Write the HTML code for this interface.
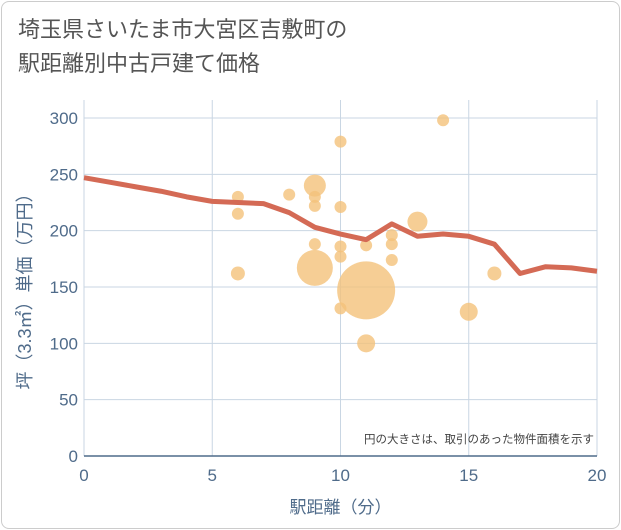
<!DOCTYPE html>
<html><head><meta charset="utf-8">
<style>
body{margin:0;background:#fff;font-family:"Liberation Sans","Noto Sans CJK JP",sans-serif;}
#wrap{position:relative;width:621px;height:530px;overflow:hidden;}
#frame{position:absolute;left:1px;top:1px;width:617px;height:526px;border:1px solid #ccc;border-radius:8px;}
#title{position:absolute;left:18px;top:13px;font-size:22px;line-height:34px;color:#555;}
svg{position:absolute;left:0;top:0;}
</style></head><body>
<div id="wrap">
<div id="frame"></div>
<div id="title">埼玉県さいたま市大宮区吉敷町の<br>駅距離別中古戸建て価格</div>
<svg id="chart" width="621" height="530"></svg>
</div>
<script>
const xTicks=[0,5,10,15,20];
const yTicks=[0,50,100,150,200,250,300];
const lineX=[0,1,2,3,4,5,6,7,8,9,10,11,12,13,14,15,16,17,18,19,20];
const lineY=[247,243,239,235,230,226,225,224,216,203,197,192,206,195,197,195,188,162,168,167,164];
const bubX=[6,6,6,8,9,9,9,9,9,10,10,10,10,10,11,11,11,12,12,12,13,14,15,16];
const bubY=[230,215,162,232,240,230,222,188,167,279,221,186,177,131,147,187,100,196,188,174,208,298,128,162];
const bubR=[6,6,7,6,11,6,6,6,18,6,6,6,6,6,29,6,9,6,6,6,10,6,9,7];
const X0=84,X1=597,Y0=456,Y1=118;
const sx=v=>X0+(v-0)/(20-0)*(X1-X0);
const sy=v=>Y0-(v-0)/(300-0)*(Y0-Y1);
const svg=document.getElementById('chart');
const NS='http://www.w3.org/2000/svg';
function mk(t,a){const e=document.createElementNS(NS,t);for(const k in a)e.setAttribute(k,a[k]);svg.appendChild(e);return e;}
let bg=mk('rect',{x:X0,y:100,width:X1-X0,height:Y0-100,fill:'#fff'});


xTicks.forEach(t=>{
 let l=mk('line',{x1:sx(t),x2:sx(t),y1:100,y2:Y0,stroke:'#c9d6e3','stroke-width':1});
 
 
 let tx=mk('text',{x:sx(t),y:Y0+25,'text-anchor':'middle','font-size':17,fill:'#4f6b8a'});
 tx.textContent=t;
 
 
});
yTicks.forEach(t=>{
 let l=mk('line',{x1:X0,x2:X1,y1:sy(t),y2:sy(t),stroke:'#c9d6e3','stroke-width':1});
 
 
 let tx=mk('text',{x:X0-6,y:sy(t)+6,'text-anchor':'end','font-size':17,fill:'#4f6b8a'});
 tx.textContent=t;
 
 
});
let ax=mk('line',{x1:X0,x2:X1,y1:Y0,y2:Y0,stroke:'#4f6b8a','stroke-width':1.5});


bubX.forEach((x,i)=>{
 let c=mk('circle',{cx:sx(x),cy:sy(bubY[i]),r:bubR[i],fill:'#f4c27a','fill-opacity':0.8});
 
 
});
let p=mk('polyline',{points:lineX.map((x,i)=>sx(x)+','+sy(lineY[i])).join(' '),fill:'none',stroke:'#d46a55','stroke-width':5,'stroke-linejoin':'round'});


let note=mk('text',{x:594,y:443,'text-anchor':'end','font-size':11.5,fill:'#444'});
note.textContent='円の大きさは、取引のあった物件面積を示す';


let xt=mk('text',{x:sx(10),y:513,'text-anchor':'middle','font-size':17,fill:'#4f6b8a'});
xt.textContent='駅距離（分）';


let yt=mk('text',{x:0,y:0,'text-anchor':'middle','font-size':18,fill:'#4f6b8a',transform:'translate(31,'+sy(150)+') rotate(-90)'});
yt.textContent='坪（3.3㎡）単価（万円）';


</script>
</body></html>
